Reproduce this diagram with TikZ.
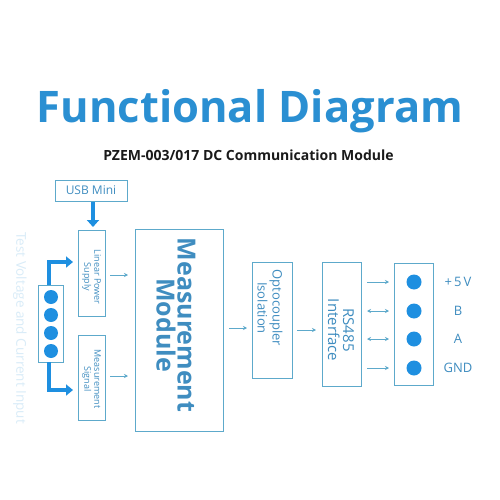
\documentclass[tikz,border=0pt]{standalone}
\usepackage{fontspec}
\setmainfont{Open Sans}
\usetikzlibrary{arrows.meta}
\definecolor{titleblue}{HTML}{2A8FD2}
\definecolor{boxline}{HTML}{5DA9CB}
\definecolor{boxtext}{HTML}{3F8DC0}
\definecolor{brightblue}{HTML}{1E8FE0}
\definecolor{faint}{HTML}{D9ECF8}
\definecolor{darktext}{HTML}{1A1A1A}
\tikzset{
  blk/.style={draw=boxline, line width=0.9pt, inner sep=0pt},
  rtxt/.style={text=boxtext, rotate=-90, align=center},
  thin/.style={draw=boxline, line width=0.8pt, -{Stealth[length=4pt,width=4pt]}},
  both/.style={draw=boxline, line width=0.8pt, {Stealth[length=4pt,width=4pt]}-{Stealth[length=4pt,width=4pt]}},
  fat/.style={draw=brightblue, line width=4pt, -{Triangle[length=7pt,width=11pt]}},
  dot/.style={circle, fill=brightblue, inner sep=0pt, minimum size=15pt},
  sdot/.style={circle, fill=brightblue, inner sep=0pt, minimum size=14pt},
}
\begin{document}
\begin{tikzpicture}[x=1pt,y=-1pt]
\useasboundingbox[fill=white] (0,0) rectangle (500,500);
% titles
\node[text=titleblue, font=\fontsize{43.5}{46}\selectfont\bfseries] (title) at (250,111) {Functional Diagram};
\node[text=darktext, font=\fontsize{14}{16}\selectfont\bfseries] (sub) at (248.5,155) {PZEM-003/017 DC Communication Module};
% faint side text
\node[text=faint, rotate=-90, font=\fontsize{13.5}{15}\selectfont] (side) at (20,328) {Test Voltage and Current Input};
% USB mini
\node[blk, minimum width=72pt, minimum height=21pt, text=boxtext, font=\fontsize{12}{14}\selectfont] (usb) at (91,190.5) {USB Mini};
% linear power, measurement signal
\draw[blk] (78,230) rectangle (105,316);
\node[rtxt, font=\fontsize{9}{10}\selectfont] (lps) at (91.5,277) {Linear Power\\Supply};
\draw[blk] (78,335) rectangle (105,420);
\node[rtxt, font=\fontsize{9}{10}\selectfont] (msig) at (91.5,379) {Measurement\\Signal};
\coordinate (usbBot) at (93,202);
\draw[draw=brightblue, line width=4.5pt, -{Triangle[length=7pt,width=12pt]}] (usbBot) -- (93,227);
% input connector
\draw[blk] (38,285) rectangle (63,362);
\node[sdot] (i1) at (51,297) {};
\node[sdot] (i2) at (51,315) {};
\node[sdot] (i3) at (51,333) {};
\node[sdot] (i4) at (51,351) {};
\coordinate (cTop) at (49,285);
\coordinate (cBot) at (49,362);
\coordinate (lpsIn) at (73,262);
\coordinate (msIn) at (73,390);
\draw[fat] (cTop) |- (lpsIn);
\draw[fat] (cBot) |- (msIn);
% measurement module
\draw[blk] (135,229) rectangle (223,431);
\node[rtxt, font=\fontsize{25}{21}\selectfont\bfseries] (mm) at (176,325) {Measurement\\Module};
\draw[thin] (110,275) -- (128,275);
\draw[thin] (110,376) -- (128,376);
% optocoupler
\draw[blk] (252,262) rectangle (292,378);
\node[rtxt, font=\fontsize{13}{15}\selectfont] (opto) at (270,308) {Optocoupler\\Isolation};
\draw[thin] (229,328) -- (247,328);
% RS485
\draw[blk] (322,262) rectangle (361,386);
\node[rtxt, font=\fontsize{15}{15}\selectfont] (rs) at (341,330) {RS485\\Interface};
\draw[thin] (297,330) -- (316,330);
% output arrows
\draw[thin] (367,282) -- (389,282);
\draw[both] (367,311) -- (389,311);
\draw[both] (367,339) -- (389,339);
\draw[thin] (367,368) -- (389,368);
% output connector
\draw[blk] (394,263) rectangle (433,385);
\node[dot] (o1) at (414,282) {};
\node[dot] (o2) at (414,311) {};
\node[dot] (o3) at (414,339) {};
\node[dot] (o4) at (414,368) {};
\tikzset{lbl/.style={text=boxtext, font=\fontsize{13}{15}\selectfont}}
\node[lbl] (l1) at (458,282) {+\,5\,V};
\node[lbl] (l2) at (458,311) {B};
\node[lbl] (l3) at (458,339) {A};
\node[lbl] (l4) at (458,368) {GND};
\end{tikzpicture}
\end{document}
